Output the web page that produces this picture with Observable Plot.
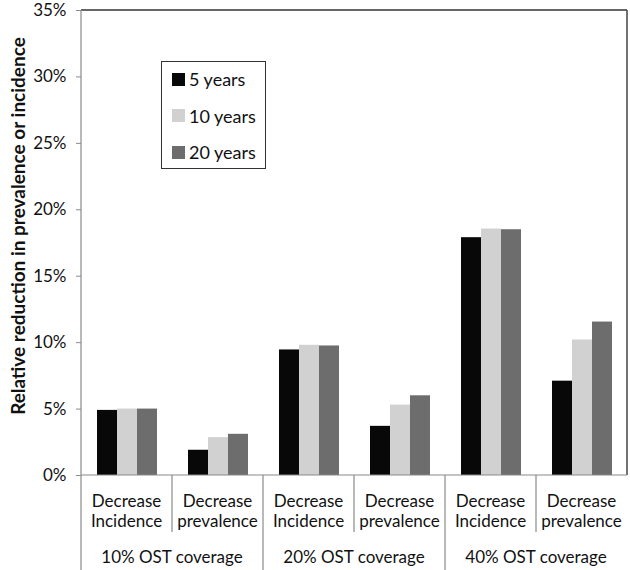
<!DOCTYPE html>
<html><head><meta charset="utf-8">
<script src="https://cdn.jsdelivr.net/npm/d3@7"></script>
<script src="https://cdn.jsdelivr.net/npm/@observablehq/plot@0.6"></script>
<style>
body{margin:0;background:#fff;font-family:Lato,sans-serif}
#wrap{position:relative;width:630px;height:570px;overflow:hidden}
#wrap svg{display:block}
.legend{position:absolute;left:161px;top:61px;width:105px;height:108px;border:1.5px solid #333;box-sizing:border-box;background:#fff;font-family:Lato,sans-serif;font-size:18px;color:#111}
.legend .row{position:absolute;left:10px;display:flex;align-items:center;height:20px}
.legend .sw{width:13px;height:13px;margin-right:4px}
</style></head><body><div id="wrap"></div>
<script>
const groups = ["10% OST coverage","20% OST coverage","40% OST coverage"];
const measures = ["Decrease\nIncidence","Decrease\nprevalence"];
const series = ["5 years","10 years","20 years"];
const colors = ["#080808","#d1d1d1","#6d6d6d"];
const years5 = [4.9,1.9,9.45,3.7,17.9,7.1];
const years10 = [5.0,2.85,9.8,5.3,18.55,10.2];
const years20 = [5.0,3.1,9.75,6.0,18.5,11.55];
const yTicks = [0,5,10,15,20,25,30,35];
const yLabel = "Relative reduction in prevalence or incidence";

const cats = groups.flatMap(g => measures.map(m => g + "|" + m));
const valueSets = [years5, years10, years20];
const data = [];
cats.forEach((c,i) => series.forEach((s,j) => data.push({cat:c, series:s, value: valueSets[j][i]/100})));

const plot = Plot.plot({
  width:630, height:570, marginLeft:81, marginRight:3, marginTop:10, marginBottom:95,
  style:{fontFamily:"Lato, sans-serif", fontSize:"17px", color:"#111", background:"#fff"},
  fx:{domain:cats, padding:0, axis:null, label:null},
  x:{domain:series, paddingInner:0, paddingOuter:0.67, axis:null},
  y:{domain:[0,0.35], ticks: yTicks.map(t=>t/100), tickFormat: d=>Math.round(d*100)+"%", tickSize:5, tickPadding:10, label:null},
  color:{domain:series, range:colors},
  marks:[ Plot.barY(data, {fx:"cat", x:"series", y:"value", fill:"series"}) ]
});
document.getElementById("wrap").appendChild(plot);

const svg = d3.select(plot);
svg.selectAll("[aria-label='y-axis tick'] path, [aria-label='y-axis tick'] line").attr("stroke","#8a8a8a");
const fx = plot.scale("fx"), y = plot.scale("y");
const bw = fx.bandwidth;
const L = fx.apply(cats[0]), R = fx.apply(cats[cats.length-1]) + bw;
const y0 = y.apply(0), yTop = y.apply(0.35);
const g = svg.append("g");
g.append("line").attr("x1",L).attr("x2",R).attr("y1",yTop).attr("y2",yTop).attr("stroke","#333").attr("stroke-width",1.5);
g.append("line").attr("x1",R).attr("x2",R).attr("y1",yTop).attr("y2",y0).attr("stroke","#444").attr("stroke-width",1.5);
g.append("line").attr("x1",L).attr("x2",R).attr("y1",y0).attr("y2",y0).attr("stroke","#8a8a8a").attr("stroke-width",1.2);
g.append("line").attr("x1",L).attr("x2",L).attr("y1",yTop).attr("y2",570).attr("stroke","#8a8a8a").attr("stroke-width",1.2);
cats.forEach((c,i) => {
  const x = fx.apply(c);
  if (i > 0) g.append("line").attr("x1",x).attr("x2",x).attr("y1",y0).attr("y2", i%2===0 ? 570 : y0+57).attr("stroke","#8a8a8a").attr("stroke-width",1.2);
  const lines = measures[i%2].split("\n");
  lines.forEach((t,k) => g.append("text").attr("x", x+bw/2).attr("y", 507 + k*20).attr("text-anchor","middle")
    .attr("font-family","Lato, sans-serif").attr("font-size",17).attr("fill","#111").text(t));
});
groups.forEach((grp,k) => {
  const x = fx.apply(cats[2*k]) + bw;
  g.append("text").attr("x", x).attr("y", 563).attr("text-anchor","middle")
    .attr("font-family","Lato, sans-serif").attr("font-size",17).attr("fill","#111").text(grp);
});
g.append("text").attr("transform","translate(25,226) rotate(-90)").attr("text-anchor","middle")
  .attr("font-family","Lato, sans-serif").attr("font-weight","bold").attr("font-size",19).attr("fill","#111").text(yLabel);

const leg = d3.select("#wrap").append("div").attr("class","legend");
series.forEach((s,i) => {
  const row = leg.append("div").attr("class","row").style("top", (7 + i*36.5) + "px");
  row.append("div").attr("class","sw").style("background", colors[i]);
  row.append("span").text(s);
});
</script></body></html>
